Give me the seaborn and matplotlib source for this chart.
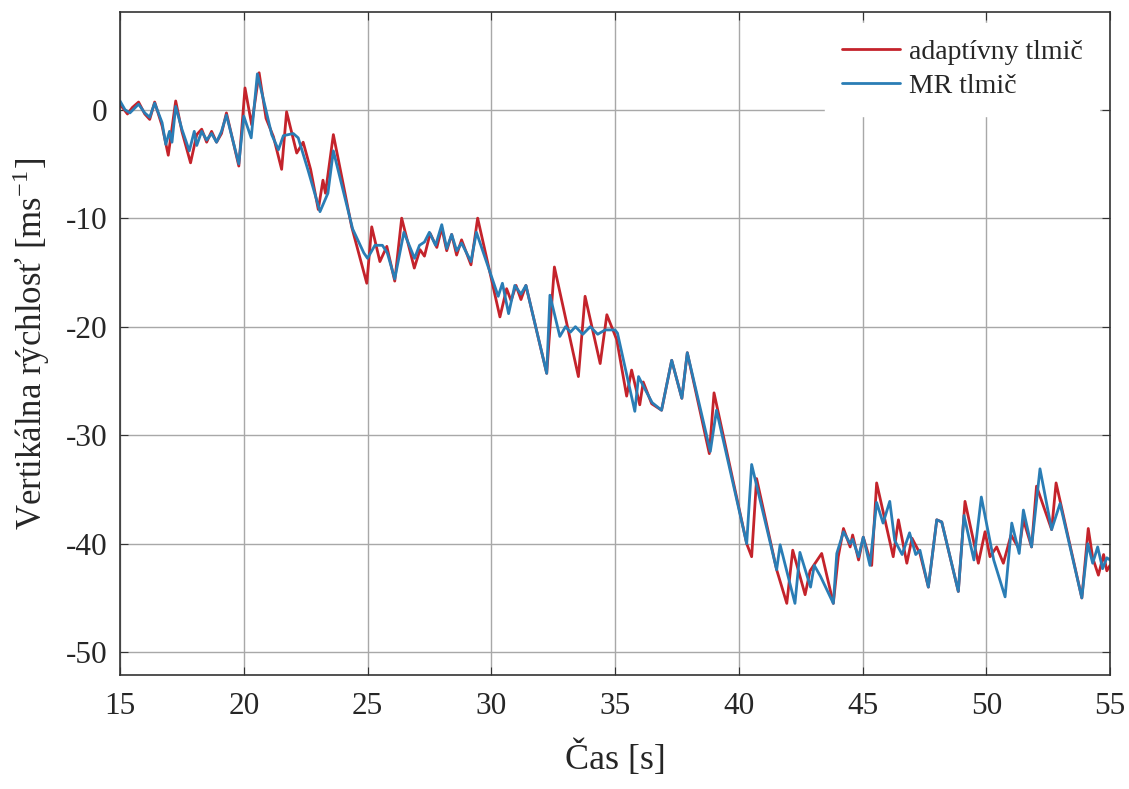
import pandas as pd
import matplotlib
matplotlib.use("Agg")
import matplotlib.pyplot as plt
import seaborn as sns

# vertices (time in s, velocity in m/s)
t_adapt = [15.0, 15.3, 15.5, 15.75, 16.0, 16.2, 16.4, 16.7, 16.95, 17.25, 17.5, 17.85, 18.1, 18.3,
           18.5, 18.7, 18.9, 19.1, 19.3, 19.8, 20.05, 20.32, 20.62, 20.9, 21.2, 21.53, 21.73, 22.14,
           22.4, 22.7, 23.01, 23.2, 23.3, 23.62, 24.36, 24.97, 25.17, 25.5, 25.78, 26.1, 26.38,
           26.89, 27.12, 27.3, 27.53, 27.8, 28.0, 28.2, 28.4, 28.6, 28.8, 29.18, 29.45, 30.35,
           30.62, 30.8, 31.0, 31.2, 31.4, 32.24, 32.55, 33.52, 33.79, 34.4, 34.67, 35.07, 35.47,
           35.67, 36.0, 36.14, 36.48, 36.88, 37.29, 37.7, 37.92, 38.81, 39.0, 40.32, 40.52, 40.72,
           41.53, 41.94, 42.18, 42.68, 42.88, 43.35, 43.82, 44.02, 44.23, 44.5, 44.6, 44.84, 45.03,
           45.37, 45.57, 46.24, 46.45, 46.79, 47.0, 47.32, 47.66, 48.0, 48.2, 48.87, 49.14, 49.68,
           49.95, 50.15, 50.42, 50.69, 51.0, 51.33, 51.5, 51.83, 52.03, 52.64, 52.82, 53.86, 54.12,
           54.3, 54.53, 54.74, 54.87, 55.0]
v_adapt = [0.5, -0.4, 0.2, 0.7, -0.4, -0.9, 0.7, -1.5, -4.2, 0.8, -2.0, -4.9, -2.3, -1.8,
           -3.0, -2.0, -3.0, -2.2, -0.3, -5.2, 2.0, -1.4, 3.4, -0.8, -2.5, -5.5, -0.2, -4.0,
           -3.0, -5.5, -9.2, -6.5, -7.7, -2.3, -10.8, -16.0, -10.8, -14.0, -12.6, -15.8, -10.0,
           -14.6, -12.9, -13.5, -11.4, -12.7, -10.9, -13.0, -11.5, -13.4, -12.0, -14.3, -10.0, -19.1,
           -16.5, -17.6, -16.2, -17.5, -16.2, -24.3, -14.5, -24.6, -17.2, -23.4, -18.9, -21.2, -26.4,
           -24.0, -27.2, -25.1, -27.1, -27.7, -23.1, -26.6, -22.4, -31.7, -26.1, -40.0, -41.2, -34.0,
           -42.4, -45.5, -40.6, -44.7, -42.5, -40.9, -45.5, -41.2, -38.6, -40.3, -39.2, -41.5, -39.4,
           -42.0, -34.4, -41.2, -37.8, -41.8, -39.5, -40.9, -44.0, -37.8, -38.0, -44.4, -36.1, -41.8,
           -38.9, -41.2, -40.3, -41.8, -39.2, -40.5, -37.8, -40.3, -34.7, -38.7, -34.4, -45.0, -38.6,
           -41.3, -42.9, -41.0, -42.5, -42.0]

t_mr = [15.0, 15.2, 15.4, 15.75, 16.0, 16.2, 16.4, 16.7, 16.85, 17.0, 17.1, 17.25, 17.5, 17.8,
        18.0, 18.1, 18.3, 18.5, 18.7, 18.9, 19.1, 19.3, 19.8, 20.0, 20.3, 20.55, 21.13, 21.4,
        21.6, 22.0, 22.2, 22.6, 23.08, 23.4, 23.62, 24.4, 24.85, 25.0, 25.3, 25.6, 25.8, 26.1,
        26.47, 26.9, 27.1, 27.3, 27.5, 27.75, 28.0, 28.2, 28.4, 28.6, 28.8, 29.18, 29.4, 30.28,
        30.45, 30.7, 30.95, 31.2, 31.4, 32.24, 32.37, 32.77, 33.0, 33.2, 33.4, 33.7, 34.0, 34.3,
        34.6, 35.0, 35.1, 35.8, 35.95, 36.15, 36.5, 36.88, 37.29, 37.7, 37.92, 38.85, 39.1, 40.32,
        40.52, 41.53, 41.67, 42.27, 42.47, 42.9, 43.05, 43.3, 43.82, 43.96, 44.23, 44.5, 44.6,
        44.84, 45.03, 45.3, 45.57, 45.83, 46.1, 46.3, 46.6, 46.9, 47.15, 47.32, 47.66, 48.0, 48.2,
        48.87, 49.1, 49.5, 49.8, 50.3, 50.76, 51.03, 51.33, 51.5, 51.83, 52.17, 52.64, 52.98,
        53.86, 54.1, 54.3, 54.5, 54.7, 54.87, 55.0]
v_mr = [0.8, 0.0, -0.3, 0.5, -0.3, -0.7, 0.6, -1.2, -3.2, -2.0, -3.0, 0.3, -1.8, -3.8,
        -2.0, -3.3, -2.0, -2.8, -2.2, -3.0, -2.0, -0.5, -5.0, -0.6, -2.6, 3.3, -2.3, -3.7,
        -2.4, -2.2, -2.6, -5.6, -9.4, -7.7, -3.8, -11.0, -13.2, -13.7, -12.5, -12.5, -13.2, -15.6,
        -11.3, -13.7, -12.5, -12.2, -11.3, -12.5, -10.6, -12.8, -11.5, -13.0, -12.3, -14.0, -11.3, -17.2,
        -16.0, -18.8, -16.2, -17.0, -16.2, -24.3, -17.1, -20.9, -20.0, -20.5, -20.0, -20.7, -20.0, -20.7,
        -20.3, -20.3, -20.6, -27.8, -24.6, -25.5, -27.0, -27.7, -23.1, -26.6, -22.4, -31.5, -27.7, -40.0,
        -32.7, -42.4, -40.1, -45.5, -40.8, -44.0, -42.0, -43.0, -45.5, -40.9, -38.9, -40.0, -39.6,
        -41.2, -39.4, -42.0, -36.2, -38.1, -36.1, -39.7, -41.0, -39.0, -41.0, -40.6, -44.0, -37.8, -38.0,
        -44.4, -37.4, -41.5, -35.7, -41.5, -44.9, -38.1, -40.9, -36.9, -40.3, -33.1, -38.7, -36.3,
        -45.0, -40.0, -41.8, -40.3, -42.3, -41.3, -41.5]

x_ticks = [15, 20, 25, 30, 35, 40, 45, 50, 55]
y_ticks = [-50, -40, -30, -20, -10, 0]

df = pd.concat([
    pd.DataFrame({'t': t_adapt, 'v': v_adapt, 'tlmic': 'adaptívny tlmič'}),
    pd.DataFrame({'t': t_mr, 'v': v_mr, 'tlmic': 'MR tlmič'}),
])

sns.set_style("ticks")
plt.rcParams['font.family'] = ['Liberation Serif', 'DejaVu Serif']
plt.rcParams['mathtext.fontset'] = 'stix'
plt.rcParams['axes.unicode_minus'] = False

fig = plt.figure(figsize=(11.29, 7.89), dpi=100)
ax = fig.add_axes([0.1063, 0.1445, 0.8769, 0.8403])

sns.lineplot(data=df, x='t', y='v', hue='tlmic', estimator=None, sort=False,
             palette={'adaptívny tlmič': '#c4232b', 'MR tlmič': '#2a7db5'},
             linewidth=2.0, ax=ax)

ax.set_xlim(15, 55)
ax.set_ylim(-52.1, 9.0)
ax.set_xticks(x_ticks)
ax.set_yticks(y_ticks)
ax.grid(True, color='#a8a8a8', linewidth=1.0)
ax.tick_params(direction='in', top=True, right=True, labelsize=22.5, length=6, color='#333333')
ax.tick_params(axis='x', pad=12)
ax.tick_params(axis='y', pad=9)
for s in ax.spines.values():
    s.set_color('#333333')
    s.set_linewidth(1.2)

ax.set_xlabel('Čas [s]', fontsize=26, labelpad=14)
ax.set_ylabel('Vertikálna rýchlosť [ms$^{\\mathregular{-1}}$]', fontsize=25, labelpad=10)

leg = ax.legend(loc='upper right', fontsize=20, frameon=True, fancybox=False,
                handlelength=2.1, handletextpad=0.3, labelspacing=0.3,
                borderaxespad=0.4, borderpad=0.6)
leg.get_frame().set_edgecolor('white')
leg.get_frame().set_facecolor('white')
leg.get_frame().set_alpha(1.0)

fig.savefig('out.png', dpi=100)
